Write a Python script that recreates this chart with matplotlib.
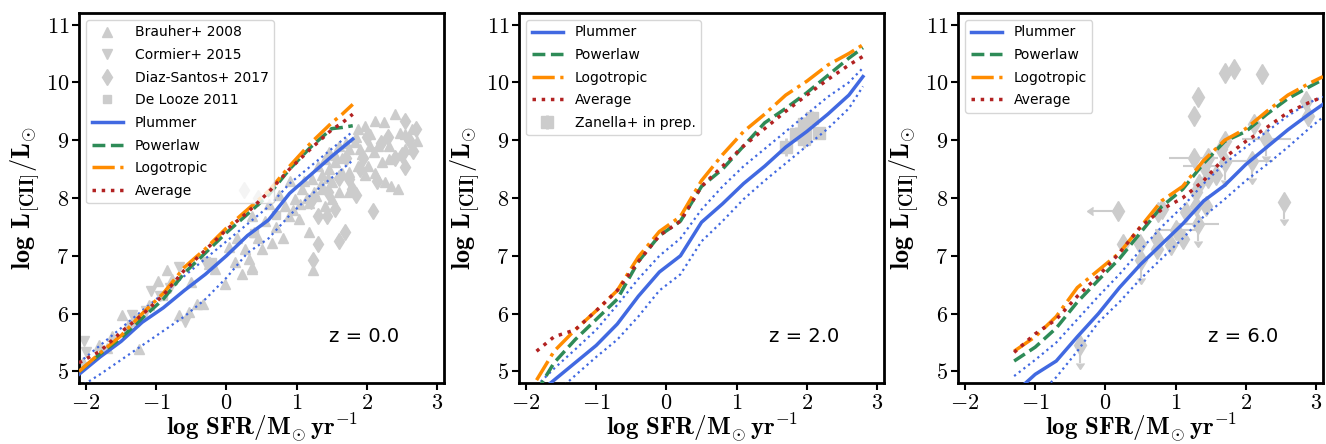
import matplotlib
matplotlib.use("Agg")
import matplotlib.pyplot as plt

plt.rcParams['mathtext.fontset'] = 'cm'
plt.rcParams['font.family'] = ['DejaVu Sans']

# ---- model curves, z = 0 ----
x_z0 = [-2.1, -1.8, -1.5, -1.2, -0.9, -0.6, -0.3, 0.0, 0.3, 0.6, 0.9, 1.2, 1.5, 1.65, 1.8]
plum_z0 = [4.95, 5.25, 5.52, 5.85, 6.1, 6.4, 6.68, 7.0, 7.35, 7.62, 8.08, 8.4, 8.72, 8.87, 9.02]
plum_hi_z0 = [5.15, 5.45, 5.75, 6.05, 6.35, 6.65, 6.95, 7.25, 7.55, 7.85, 8.25, 8.55, 8.85, 9.0, 9.15]
plum_lo_z0 = [4.72, 4.95, 5.2, 5.45, 5.7, 5.95, 6.25, 6.62, 7.05, 7.3, 7.7, 8.05, 8.35, 8.5, 8.65]
pow_z0 = [5.0, 5.3, 5.58, 5.92, 6.25, 6.7, 7.05, 7.4, 7.72, 8.05, 8.5, 8.88, 9.2, 9.22, 9.25]
logo_z0 = [5.0, 5.32, 5.62, 6.0, 6.35, 6.8, 7.12, 7.48, 7.8, 8.12, 8.55, 8.95, 9.3, 9.45, 9.62]
avg_z0 = [5.15, 5.35, 5.68, 5.98, 6.32, 6.75, 7.1, 7.45, 7.75, 8.1, 8.5, 8.85, 9.18, 9.3, 9.45]

# ---- model curves, z = 2 ----
x_z2 = [-1.85, -1.6, -1.3, -1.0, -0.7, -0.4, -0.1, 0.2, 0.5, 0.8, 1.1, 1.4, 1.7, 2.0, 2.3, 2.6, 2.8]
plum_z2 = [4.6, 4.85, 5.15, 5.45, 5.82, 6.3, 6.72, 7.0, 7.58, 7.9, 8.25, 8.55, 8.88, 9.15, 9.45, 9.78, 10.1]
plum_hi_z2 = [4.75, 5.05, 5.38, 5.72, 6.15, 6.6, 7.0, 7.3, 7.8, 8.2, 8.55, 8.85, 9.15, 9.45, 9.75, 10.0, 10.25]
plum_lo_z2 = [4.4, 4.6, 4.93, 5.25, 5.55, 5.95, 6.4, 6.68, 7.25, 7.6, 7.98, 8.3, 8.6, 8.9, 9.2, 9.55, 9.93]
pow_z2 = [4.65, 5.15, 5.55, 5.9, 6.25, 6.9, 7.35, 7.6, 8.2, 8.5, 8.9, 9.3, 9.55, 9.82, 10.12, 10.42, 10.6]
logo_z2 = [4.85, 5.35, 5.72, 6.05, 6.4, 6.98, 7.42, 7.68, 8.3, 8.75, 9.15, 9.45, 9.78, 10.02, 10.3, 10.5, 10.65]
avg_z2 = [5.35, 5.6, 5.72, 6.05, 6.4, 6.9, 7.35, 7.6, 8.2, 8.55, 8.9, 9.2, 9.5, 9.78, 10.05, 10.3, 10.45]

# ---- model curves, z = 6 ----
x_z6 = [-1.3, -1.0, -0.7, -0.4, -0.1, 0.2, 0.5, 0.8, 1.1, 1.4, 1.7, 2.0, 2.3, 2.6, 2.9, 3.1]
plum_z6 = [4.62, 4.95, 5.18, 5.6, 6.0, 6.45, 6.85, 7.2, 7.55, 7.95, 8.22, 8.58, 8.88, 9.18, 9.45, 9.62]
plum_hi_z6 = [4.92, 5.2, 5.5, 5.9, 6.3, 6.68, 7.1, 7.5, 7.85, 8.25, 8.6, 8.88, 9.15, 9.42, 9.65, 9.75]
plum_lo_z6 = [4.3, 4.55, 4.9, 5.35, 5.85, 6.2, 6.6, 6.95, 7.3, 7.68, 7.98, 8.3, 8.58, 8.88, 9.2, 9.4]
pow_z6 = [5.18, 5.42, 5.75, 6.2, 6.58, 6.95, 7.4, 7.85, 8.15, 8.6, 8.98, 9.15, 9.45, 9.72, 9.92, 10.05]
logo_z6 = [5.35, 5.6, 5.95, 6.45, 6.75, 7.05, 7.5, 7.95, 8.2, 8.65, 9.0, 9.2, 9.5, 9.78, 9.98, 10.1]
avg_z6 = [5.33, 5.65, 5.9, 6.3, 6.65, 7.05, 7.5, 7.8, 8.0, 8.3, 8.7, 8.98, 9.22, 9.48, 9.65, 9.75]

# ---- observations, z = 0 ----
brauher_x = [-2.05, -1.25, -0.68, -0.33, -0.42, -0.54, -0.02, 0.22, 0.36, -0.16, 0.12, 0.03, 0.26, 0.4, 0.36,
             -0.97, -0.78, -1.49, -1.63, -1.82, 0.51, 0.65, 0.32, 0.37, 1.17, 1.03, 0.89, 0.84, 0.98, 1.08,
             1.22, 1.36, 1.41, 1.46, 1.6, 1.74, 1.88, 1.98, 2.4, 2.71, 2.64, 2.12, 2.24, 2.47, 2.31, 2.54,
             2.26, 2.35, 1.88, 1.98, 1.83, 1.93, 2.02, 2.12, 2.21, 2.31, 2.16, 2.05, 1.6, 1.5, 1.41, 1.17,
             1.27, 1.36, 1.5, 1.65, 1.55, 1.46, 1.24, 0.7, 0.8, 0.55, -0.85, -1.1, 1.75, 2.55, 2.45,
             1.1, 1.3, 1.55, 1.7, 1.85, 1.05, 1.25, 1.45, 1.65, 1.9, 2.1, 0.95, 1.15, 1.35, 1.75, 2.05,
             0.6, 0.75, 0.9, 0.45, 0.15, -0.25, -0.5, -1.4, -1.7]
brauher_y = [5.16, 5.39, 5.97, 6.17, 6.17, 6.02, 6.51, 6.69, 6.8, 6.77, 6.89, 7.15, 7.12, 7.41, 7.69,
             6.57, 6.6, 5.97, 5.62, 5.45, 7.12, 7.23, 6.95, 6.77, 7.41, 7.64, 7.69, 7.87, 7.98, 8.16,
             8.33, 8.39, 8.67, 8.79, 8.9, 8.85, 8.56, 8.39, 9.45, 8.99, 9.19, 9.34, 9.31, 9.13, 8.9, 8.85,
             8.27, 8.21, 9.19, 9.25, 8.96, 8.76, 8.56, 8.44, 8.62, 8.67, 8.9, 8.9, 8.1, 7.98, 7.87, 7.92,
             8.04, 8.16, 8.27, 8.44, 8.62, 8.5, 6.75, 7.5, 7.3, 7.6, 6.75, 6.15, 8.1, 9.1, 8.15,
             8.3, 8.55, 8.75, 8.95, 9.05, 7.9, 8.1, 8.35, 8.7, 8.85, 8.8, 7.8, 8.0, 8.25, 8.45, 9.1,
             7.9, 8.05, 8.3, 7.3, 7.3, 6.85, 6.55, 5.8, 5.4]
cormier_x = [-2.03, -2.0, -1.34, -1.08, -0.59, -0.68, -1.3, -0.8, -0.3, -1.15, -0.95]
cormier_y = [5.53, 5.33, 5.97, 6.4, 5.85, 6.8, 5.9, 6.45, 6.9, 6.05, 6.3]
diaz_x = [2.54, 2.66, 2.54, 2.09, 1.74, 1.79, 1.55, 1.43, 1.31, 1.69, 1.6, 1.31, 1.24, 2.6, 2.7, 2.3,
          1.95, 2.15, 1.85, 2.4, 2.0, 1.7, 1.45, 0.25, 0.45, 1.9, 2.2, 2.5, 1.6, 1.2]
diaz_y = [9.33, 8.82, 8.53, 7.78, 8.33, 8.16, 7.81, 7.69, 7.69, 7.41, 7.26, 7.2, 6.92, 9.0, 9.2, 9.05,
          8.7, 8.3, 8.05, 8.7, 9.05, 8.7, 8.1, 8.13, 8.0, 8.5, 8.95, 8.75, 8.35, 7.95]
delooze_x = [-1.3, -0.9, -0.2, 0.4, 0.7]
delooze_y = [5.85, 6.3, 6.9, 7.4, 7.7]

# ---- observations, z = 2 ----
zan_x = [1.70, 1.84, 1.98, 1.96, 2.08, 2.17, 1.96]
zan_y = [8.88, 9.1, 9.1, 9.28, 9.39, 9.13, 9.02]
zan_yerr = [0.15, 0.12, 0.12, 0.12, 0.12, 0.1, 0.15]

# ---- observations, z = 6 ----
hz_x = [1.70, 1.83, 2.23, 1.32, 1.26, 2.86, 2.88, 2.12, 1.71, 1.64, 1.46, 1.58, 1.46, 1.34, 1.29,
        1.15, 1.44, 1.29, 1.11, 0.94, 0.8, 0.75, 0.73, 0.73, 0.49, 0.25]
hz_y = [10.17, 10.23, 10.14, 9.75, 9.42, 9.68, 9.42, 9.28, 8.99, 8.85, 8.7, 8.39, 8.35, 8.24, 8.1,
        7.75, 7.87, 7.87, 7.29, 7.19, 7.81, 7.75, 7.29, 7.12, 7.2, 7.2]
# detections with x errors
hzx_x = [1.26, 1.41, 1.01]
hzx_y = [8.69, 8.56, 7.44]
hzx_err = [0.35, 0.3, 0.3]
# upper limits in [CII]
ul_x = [2.29, 2.09, 1.70, 1.32, 0.51, 2.55, -0.36]
ul_y = [9.02, 8.64, 8.62, 7.55, 6.92, 7.93, 5.45]
ul_xerr = [0.35, 0.3, 0.0, 0.3, 0.0, 0.0, 0.0]
# upper limit in SFR
ulsfr_x = [0.18]
ulsfr_y = [7.78]

blue, green, orange, red = 'royalblue', 'seagreen', 'darkorange', 'firebrick'
gray = '#cccccc'

fig = plt.figure(figsize=(13.26, 4.44), dpi=100)
lefts = [79 / 1326, 519 / 1326, 958 / 1326]
axes = [fig.add_axes([l, 61 / 444, 365 / 1326, 370 / 444]) for l in lefts]


def draw_models(ax, x, plum, hi, lo, pw, lg, av):
    ax.plot(x, plum, color=blue, lw=2.5, label='Plummer', zorder=5)
    ax.plot(x, hi, color=blue, lw=1.6, ls=':', zorder=5)
    ax.plot(x, lo, color=blue, lw=1.6, ls=':', zorder=5)
    ax.plot(x, pw, color=green, lw=2.5, ls='--', label='Powerlaw', zorder=5)
    ax.plot(x, lg, color=orange, lw=2.5, ls='-.', label='Logotropic', zorder=5)
    ax.plot(x, av, color=red, lw=2.5, ls=':', label='Average', zorder=6)


# panel 1
ax = axes[0]
ax.plot(brauher_x, brauher_y, '^', color=gray, ms=7, ls='none', label='Brauher+ 2008', zorder=2)
ax.plot(cormier_x, cormier_y, 'v', color=gray, ms=7, ls='none', label='Cormier+ 2015', zorder=2)
ax.plot(diaz_x, diaz_y, 'd', color=gray, ms=8, ls='none', label='Diaz-Santos+ 2017', zorder=2)
ax.plot(delooze_x, delooze_y, 's', color=gray, ms=6, ls='none', label='De Looze 2011', zorder=2)
draw_models(ax, x_z0, plum_z0, plum_hi_z0, plum_lo_z0, pow_z0, logo_z0, avg_z0)
ax.text(0.78, 0.125, 'z = 0.0', transform=ax.transAxes, fontsize=14, ha='center', va='center')

# panel 2
ax = axes[1]
draw_models(ax, x_z2, plum_z2, plum_hi_z2, plum_lo_z2, pow_z2, logo_z2, avg_z2)
ax.errorbar(zan_x, zan_y, yerr=zan_yerr, fmt='s', color=gray, ms=9, elinewidth=2,
            label='Zanella+ in prep.', zorder=3)
ax.text(0.78, 0.125, 'z = 2.0', transform=ax.transAxes, fontsize=14, ha='center', va='center')

# panel 3
ax = axes[2]
ax.errorbar(hz_x, hz_y, fmt='d', color=gray, ms=10, ls='none', zorder=2)
ax.errorbar(hzx_x, hzx_y, xerr=hzx_err, fmt='d', color=gray, ms=10, elinewidth=1.5, zorder=2)
ax.errorbar(ul_x, ul_y, xerr=ul_xerr, yerr=0.3, uplims=True, fmt='d', color=gray, ms=10,
            elinewidth=1.5, zorder=2)
ax.errorbar(ulsfr_x, ulsfr_y, xerr=0.35, xuplims=True, fmt='d', color=gray, ms=10,
            elinewidth=1.5, zorder=2)
draw_models(ax, x_z6, plum_z6, plum_hi_z6, plum_lo_z6, pow_z6, logo_z6, avg_z6)
ax.text(0.78, 0.125, 'z = 6.0', transform=ax.transAxes, fontsize=14, ha='center', va='center')

for ax in axes:
    ax.set_xlim(-2.1, 3.1)
    ax.set_ylim(4.8, 11.2)
    ax.set_xticks(range(-2, 4))
    ax.set_yticks(range(5, 12))
    ax.set_xticklabels([r'$\mathbf{%d}$' % v if v >= 0 else r'$\mathbf{-%d}$' % -v for v in range(-2, 4)])
    ax.set_yticklabels([r'$\mathbf{%d}$' % v for v in range(5, 12)])
    ax.tick_params(labelsize=16, width=1.5, length=5, pad=2)
    for s in ax.spines.values():
        s.set_linewidth(2)
    ax.set_xlabel(r'$\mathbf{log\ SFR/M_{\odot}\,yr^{-1}}$', fontsize=18, labelpad=-1)
    ax.set_ylabel(r'$\mathbf{log\ L_{[CII]}/L_{\odot}}$', fontsize=19, labelpad=3)
    ax.legend(loc='upper left', fontsize=10, numpoints=1, handlelength=2.3, labelspacing=0.62)

fig.savefig('out.png', dpi=100)
